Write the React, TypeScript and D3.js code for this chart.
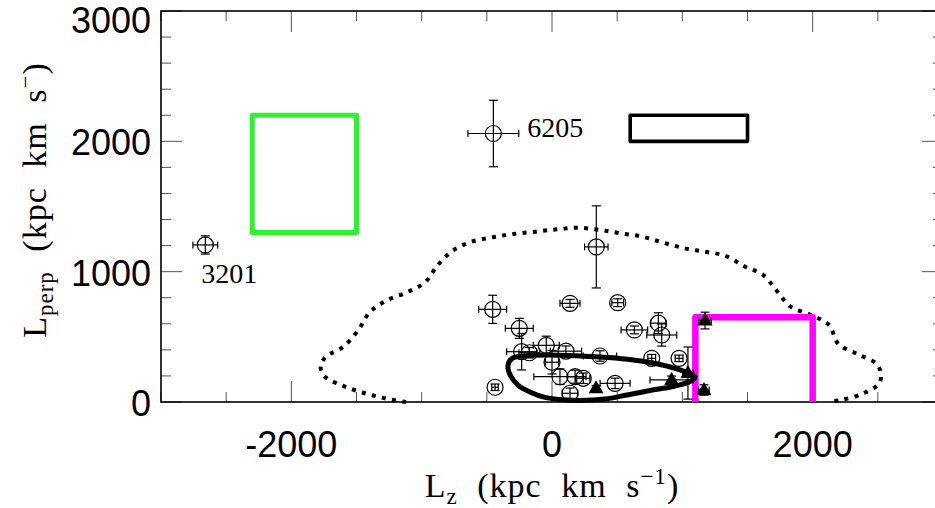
import React from "react";
import * as d3 from "d3";

const W = 935;
const H = 508;

// Axis domains and tick values
const lzDomain = [-3000, 3000];
const lperpDomain = [0, 3000];
const lzMajorTicks = [-2000, 0, 2000];
const lzMinorStep = 500;
const lperpMajorTicks = [0, 1000, 2000, 3000];
const lperpMinorStep = 200;

// Open circles with error bars
const circlesLz = [-2660, -450, 340, -455, 138, 504, -251, 816, 632, 842, -44, -233, -174, 107, 368, 0, 765, 975, 61, 177, 240, 484, 138, -437];
const circlesLperp = [1205, 2060, 1190, 711, 757, 762, 565, 605, 553, 514, 435, 386, 378, 390, 353, 305, 335, 335, 194, 194, 182, 143, 67, 113];
const circlesErrLz = [95, 195, 90, 107, 77, 45, 107, 60, 102, 115, 100, 115, 80, 120, 128, 50, 30, 30, 200, 60, 50, 115, 60, 25];
const circlesErrLperp = [70, 255, 315, 108, 30, 30, 77, 80, 30, 85, 70, 140, 40, 40, 40, 90, 30, 25, 60, 50, 40, 40, 40, 25];

// Filled triangles with error bars
const triLz = [338, 918, 1043, 1174, 1166];
const triLperp = [105, 169, 222, 625, 92];
const triErrLz = [20, 166, 40, 48, 40];
const triErrLperp = [20, 30, 200, 64, 40];

// Named objects
const nameLabels = ["3201", "6205"];
const nameLz = [-2660, -450];
const nameLperp = [1205, 2060];

// Boxes: [Lz0, Lz1, Lperp0, Lperp1]
const greenBox = [-2300, -1500, 1300, 2200];
const blackBox = [600, 1500, 2000, 2200];
const magentaBox = [1100, 2000, 0, 650];

// Dotted envelope (open at the bottom)
const envelopeLz = [-1120, -1281, -1448, -1606, -1749, -1775, -1734, -1601, -1486, -1402, -1274, -1120, -974, -880, -762, -616, -455, -297, -123, 36, 202, 368, 529, 696, 854, 1020, 1174, 1335, 1481, 1621, 1724, 1832, 1985, 2125, 2197, 2343, 2491, 2522, 2511, 2376, 2217, 2133];
const envelopeLperp = [0, 28, 71, 125, 200, 276, 348, 424, 552, 685, 777, 839, 918, 1046, 1161, 1230, 1264, 1289, 1307, 1325, 1337, 1320, 1294, 1268, 1222, 1179, 1153, 1120, 1038, 974, 854, 731, 668, 591, 445, 368, 292, 220, 143, 61, 15, 0];

// Solid closed orbit loop
const loopLz = [-338, -307, -223, -38, 215, 430, 622, 829, 982, 1097, 1059, 928, 752, 575, 407, 215, 61, -54, -169, -261, -315];
const loopLperp = [276, 334, 353, 361, 353, 341, 322, 288, 246, 192, 157, 119, 88, 54, 23, 12, 19, 35, 77, 130, 196];

const x = d3.scaleLinear().domain(lzDomain).range([161, 943]);
const y = d3.scaleLinear().domain(lperpDomain).range([402, 11]);

const SANS = "'Liberation Sans', Arial, Helvetica, sans-serif";
const SERIF = "'Liberation Serif', 'Times New Roman', serif";

function range(a: number, b: number, s: number) {
  const out: number[] = [];
  for (let v = a; v <= b + 1e-9; v += s) out.push(v);
  return out;
}

function ErrBars({ cx, cy, ex, ey }: { cx: number; cy: number; ex: number; ey: number }) {
  const px = x(cx), py = y(cy);
  const x0 = x(cx - ex), x1 = x(cx + ex);
  const y0 = y(cy - ey), y1 = y(cy + ey);
  const capH = 4.5, capV = 3.5;
  return (
    <g stroke="#000" strokeWidth={1.2} fill="none">
      <line x1={x0} y1={py} x2={x1} y2={py} />
      <line x1={px} y1={y0} x2={px} y2={y1} />
      <line x1={x0} y1={py - capV} x2={x0} y2={py + capV} />
      <line x1={x1} y1={py - capV} x2={x1} y2={py + capV} />
      <line x1={px - capH} y1={y0} x2={px + capH} y2={y0} />
      <line x1={px - capH} y1={y1} x2={px + capH} y2={y1} />
    </g>
  );
}

export default function App() {
  const xMinor = range(lzDomain[0], lzDomain[1], lzMinorStep);
  const yMinor = range(lperpDomain[0], lperpDomain[1], lperpMinorStep);
  const majLen = 21, minLen = 10;

  const envelopePath = d3
    .line<number>()
    .x((_, i) => x(envelopeLz[i]))
    .y((_, i) => y(envelopeLperp[i]))
    .curve(d3.curveCatmullRom.alpha(0.5))(envelopeLz);

  const loopPath = d3
    .line<number>()
    .x((_, i) => x(loopLz[i]))
    .y((_, i) => y(loopLperp[i]))
    .curve(d3.curveCatmullRomClosed.alpha(0.5))(loopLz);

  const boxPath = (b: number[]) =>
    `M${x(b[0])},${y(b[2])}H${x(b[1])}V${y(b[3])}H${x(b[0])}Z`;
  const openBoxPath = (b: number[]) =>
    `M${x(b[0])},${y(b[2])}V${y(b[3])}H${x(b[1])}V${y(b[2])}`;

  const triPath = (cx: number, cy: number) => {
    const px = x(cx), py = y(cy);
    return `M${px},${py - 8}L${px + 7.5},${py + 5}L${px - 7.5},${py + 5}Z`;
  };

  const titleStyle = { wordSpacing: "10px", letterSpacing: "1px" };

  return (
    <div style={{ position: "absolute", left: 0, top: 0 }}>
      <svg width={W} height={H} viewBox={`0 0 ${W} ${H}`} style={{ display: "block", background: "#fff" }}>
        {/* ticks */}
        <g stroke="#555" strokeWidth={1}>
          {xMinor.map((v) => {
            const len = lzMajorTicks.includes(v) ? majLen : minLen;
            return (
              <g key={"xt" + v}>
                <line x1={x(v)} y1={y(0)} x2={x(v)} y2={y(0) - len} />
                <line x1={x(v)} y1={y(3000)} x2={x(v)} y2={y(3000) + len} />
              </g>
            );
          })}
          {yMinor.map((v) => {
            const len = lperpMajorTicks.includes(v) ? majLen : minLen;
            return (
              <g key={"yt" + v}>
                <line x1={x(-3000)} y1={y(v)} x2={x(-3000) + len} y2={y(v)} />
                <line x1={x(3000)} y1={y(v)} x2={x(3000) - len} y2={y(v)} />
              </g>
            );
          })}
        </g>
        {/* frame */}
        <rect x={x(-3000)} y={y(3000)} width={x(3000) - x(-3000)} height={y(0) - y(3000)} fill="none" stroke="#000" strokeWidth={1.6} />

        {/* tick labels */}
        <g fontFamily={SANS} fontSize={36} fill="#000">
          {lzMajorTicks.map((v) => (
            <text key={"xl" + v} x={x(v)} y={457} textAnchor="middle">
              {v}
            </text>
          ))}
          {lperpMajorTicks.map((v) => (
            <text key={"yl" + v} x={151} y={Math.max(y(v) + 14, 33)} textAnchor="end">
              {v}
            </text>
          ))}
        </g>

        {/* axis titles */}
        <text x={552} y={497} textAnchor="middle" fontFamily={SERIF} fontSize={34} fill="#000" style={titleStyle}>
          L<tspan dy={7} fontSize={23}>z</tspan>
          <tspan dy={-7}> (kpc km s</tspan>
          <tspan dy={-13} fontSize={23}>−1</tspan>
          <tspan dy={13}>)</tspan>
        </text>
        <text transform="translate(46,200) rotate(-90)" textAnchor="middle" fontFamily={SERIF} fontSize={34} fill="#000" style={titleStyle}>
          L<tspan dy={7} fontSize={23}>perp</tspan>
          <tspan dy={-7}> (kpc km s</tspan>
          <tspan dy={-13} fontSize={23}>−</tspan>
          <tspan dy={13}>)</tspan>
        </text>

        {/* dotted envelope */}
        <path d={envelopePath || ""} fill="none" stroke="#000" strokeWidth={4} strokeDasharray="4 6.3" />

        {/* selection boxes */}
        <path d={boxPath(greenBox)} fill="none" stroke="#33ee33" strokeWidth={5} strokeLinejoin="round" />
        <path d={boxPath(blackBox)} fill="none" stroke="#000" strokeWidth={3.6} strokeLinejoin="round" />
        <path d={openBoxPath(magentaBox)} fill="none" stroke="#ff00ff" strokeWidth={6.5} strokeLinejoin="round" />

        {/* open circles */}
        {circlesLz.map((v, i) => (
          <g key={"c" + i}>
            <ErrBars cx={v} cy={circlesLperp[i]} ex={circlesErrLz[i]} ey={circlesErrLperp[i]} />
            <circle cx={x(v)} cy={y(circlesLperp[i])} r={8} fill="none" stroke="#000" strokeWidth={1.2} />
          </g>
        ))}

        {/* filled triangles */}
        {triLz.map((v, i) => (
          <g key={"t" + i}>
            <ErrBars cx={v} cy={triLperp[i]} ex={triErrLz[i]} ey={triErrLperp[i]} />
            <path d={triPath(v, triLperp[i])} fill="#000" />
          </g>
        ))}

        {/* orbit loop */}
        <path d={loopPath || ""} fill="none" stroke="#000" strokeWidth={5} strokeLinejoin="round" />

        {/* object names */}
        <g fontFamily={SERIF} fontSize={28} fill="#000">
          <text x={x(nameLz[0]) - 4} y={y(nameLperp[0]) + 38}>{nameLabels[0]}</text>
          <text x={x(nameLz[1]) + 34} y={y(nameLperp[1]) + 3}>{nameLabels[1]}</text>
        </g>
      </svg>
    </div>
  );
}
